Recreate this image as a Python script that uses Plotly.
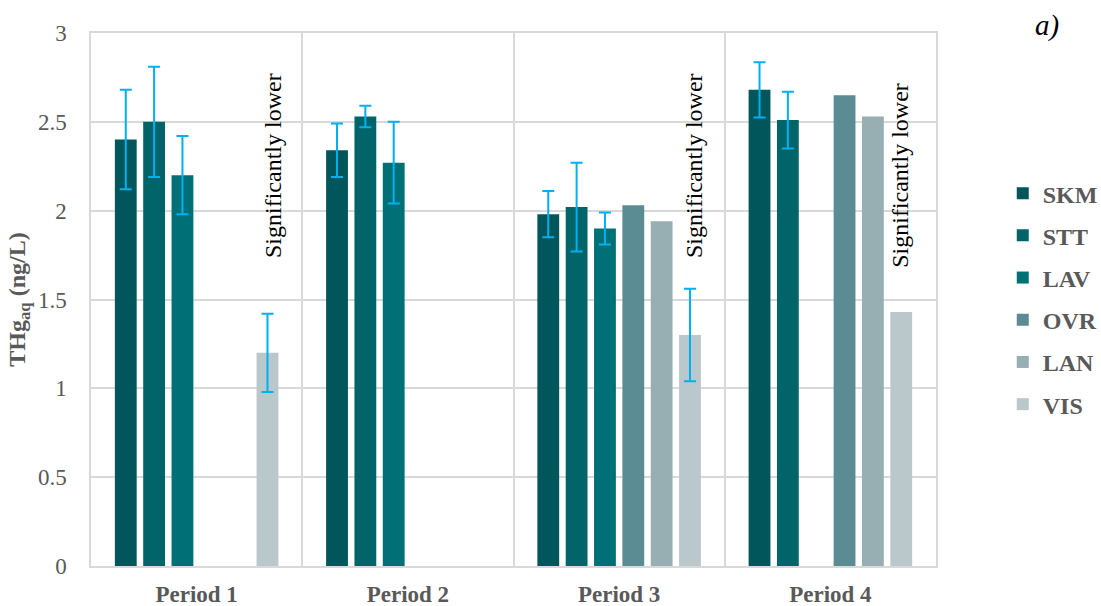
import numpy as np
import plotly.graph_objects as go

periods = ["Period 1", "Period 2", "Period 3", "Period 4"]
sites = ["SKM", "STT", "LAV", "OVR", "LAN", "VIS"]

skm = [2.40, 2.34, 1.98, 2.68]
stt = [2.50, 2.53, 2.02, 2.51]
lav = [2.20, 2.27, 1.90, None]
ovr = [None, None, 2.03, 2.65]
lan = [None, None, 1.94, 2.53]
vis = [1.20, None, 1.30, 1.43]

skm_err = [0.28, 0.15, 0.13, 0.155]
stt_err = [0.31, 0.06, 0.25, 0.16]
lav_err = [0.22, 0.23, 0.09, None]
ovr_err = [None, None, None, None]
lan_err = [None, None, None, None]
vis_err = [0.22, None, 0.26, None]

# periods where VIS is flagged as significantly lower
flagged = ["Period 1", "Period 3", "Period 4"]
flag_text = "Significantly lower"

values = [skm, stt, lav, ovr, lan, vis]
errors = [skm_err, stt_err, lav_err, ovr_err, lan_err, vis_err]
colors = ["#00565A", "#006469", "#007077", "#5B8C94", "#97AEB2", "#BAC8CC"]

SERIF = "Times New Roman"
GREY = "#595959"
GRID = "#D9D9D9"

fig = go.Figure()
for name, vals, errs, col in zip(sites, values, errors, colors):
    has_err = any(e is not None for e in errs)
    # NaN entries in a float array leave that bar without a whisker
    err_arr = np.array([np.nan if e is None else e for e in errs], dtype=float)
    fig.add_trace(go.Bar(
        x=periods, y=vals, name=name, legendgroup=name,
        marker=dict(color=col, line=dict(width=0)),
        error_y=dict(type="data", array=err_arr, visible=has_err,
                     color="#00B0F0", thickness=2, width=6),
    ))

# vertical note next to the VIS bar of each flagged period
note_pos = {"Period 1": (0.362, 1.72), "Period 3": (0.355, 1.72), "Period 4": (0.33, 1.665)}
for p in flagged:
    i = periods.index(p)
    dx, yb = note_pos[p]
    fig.add_annotation(
        x=i + dx, y=yb, xref="x", yref="y",
        text=flag_text, textangle=-90, showarrow=False,
        xanchor="center", yanchor="bottom",
        font=dict(family=SERIF, size=24, color="#000000"),
    )

fig.add_annotation(
    x=(1047 - 91) / 845, y=(566 - 25) / 533, xref="paper", yref="paper",
    text="<i>a)</i>", showarrow=False, xanchor="center", yanchor="middle",
    font=dict(family=SERIF, size=29, color="#000000"),
)

fig.update_layout(
    width=1101, height=606,
    margin=dict(l=91, r=165, t=33, b=40, autoexpand=False),
    paper_bgcolor="white", plot_bgcolor="white",
    barmode="group", bargap=0.195, bargroupgap=0.23,
    font=dict(family=SERIF, color=GREY),
    showlegend=True,
    legend=dict(
        x=1.079, y=0.741, xanchor="left", yanchor="top",
        font=dict(family=SERIF, size=24, color=GREY, weight="bold"),
        tracegroupgap=8, itemwidth=30, bgcolor="rgba(0,0,0,0)",
    ),
    xaxis=dict(
        type="category", tickson="boundaries",
        showgrid=True, gridcolor=GRID, gridwidth=1.5,
        showline=True, linecolor=GRID, linewidth=2, mirror=True,
        ticks="", ticklabelstandoff=6, automargin=False,
        tickfont=dict(family=SERIF, size=23, color=GREY, weight="bold"),
    ),
    yaxis=dict(
        range=[0, 3], dtick=0.5, tick0=0,
        showgrid=True, gridcolor=GRID, gridwidth=1.5,
        showline=True, linecolor=GRID, linewidth=1.5, mirror=True,
        zeroline=False, ticks="", ticklabelstandoff=18, automargin=False,
        tickfont=dict(family=SERIF, size=23, color=GREY),
        title=dict(text="THg<sub>aq</sub> (ng/L)", standoff=6,
                   font=dict(family=SERIF, size=24, color=GREY, weight="bold")),
    ),
)

fig.write_html("out.html")
